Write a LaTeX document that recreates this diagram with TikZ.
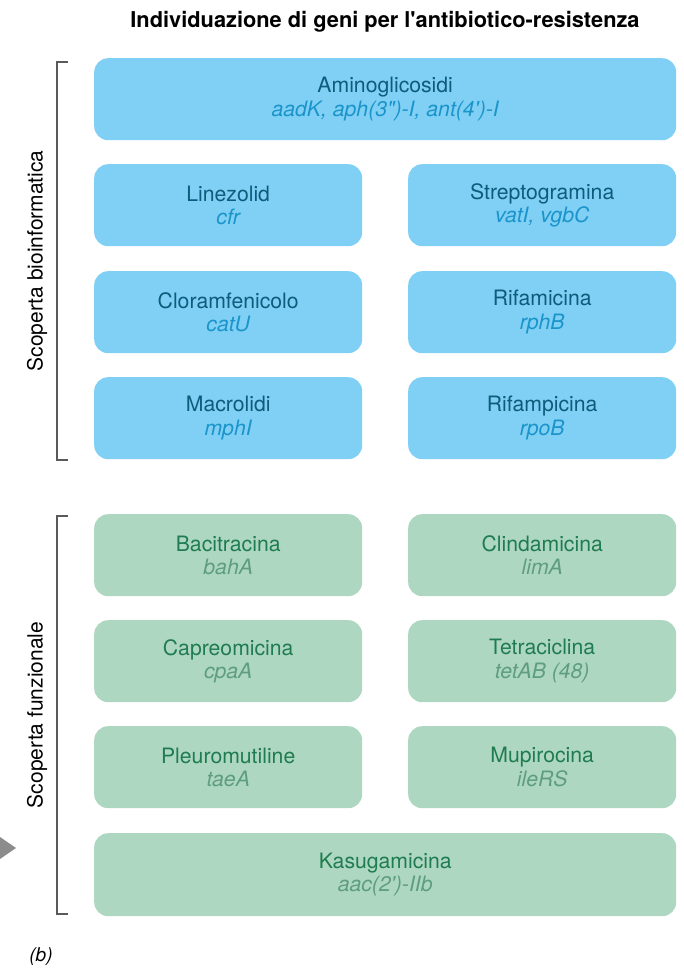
\documentclass[tikz,border=0pt]{standalone}
\usepackage{fontspec}
\newfontfamily\hv{TeX Gyre Heros}
\definecolor{bfill}{HTML}{7FD0F4}
\definecolor{bname}{HTML}{0F5B7C}
\definecolor{bgene}{HTML}{1A94CA}
\definecolor{gfill}{HTML}{AED7C1}
\definecolor{gname}{HTML}{1F7C50}
\definecolor{ggene}{HTML}{5E9D7E}
\definecolor{brk}{HTML}{5A5A5A}
\definecolor{tri}{HTML}{8C8C8C}
\newcommand{\blgene}[1]{\textcolor{bgene}{\itshape #1}}
\newcommand{\grgene}[1]{\textcolor{ggene}{\itshape #1}}
\begin{document}
\begin{tikzpicture}[x=1pt,y=-1pt,
  box/.style={rounded corners=14pt, inner sep=0pt, anchor=north west, align=center,
    font=\hv\fontsize{21.2}{23.5}\selectfont, minimum height=82pt},
  bluebox/.style={box, fill=bfill, text=bname},
  greenbox/.style={box, fill=gfill, text=gname},
  wide/.style={minimum width=582pt},
  half/.style={minimum width=268pt},
  bracketline/.style={draw=brk, line width=1.1pt},
  sidelabel/.style={rotate=90, font=\hv\fontsize{21}{24}\selectfont, text=black}]
\useasboundingbox (0,0) rectangle (683,971);
\node[font=\hv\bfseries\fontsize{21.8}{24}\selectfont] (title) at (385,22) {Individuazione di geni per l'antibiotico-resistenza};
% blue
\node[bluebox, wide] (amino) at (94,58) {Aminoglicosidi\\\blgene{aadK, aph(3")-I, ant(4')-I}};
\node[bluebox, half] (lin) at (94,164) {Linezolid\\\blgene{cfr}};
\node[bluebox, half] (strep) at (408,164) {Streptogramina\\\blgene{vatI, vgbC}};
\node[bluebox, half] (clor) at (94,271) {Cloramfenicolo\\\blgene{catU}};
\node[bluebox, half] (rifa) at (408,271) {Rifamicina\\\blgene{rphB}};
\node[bluebox, half] (macro) at (94,377) {Macrolidi\\\blgene{mphI}};
\node[bluebox, half] (rifp) at (408,377) {Rifampicina\\\blgene{rpoB}};
% green
\node[greenbox, half] (baci) at (94,514) {Bacitracina\\\grgene{bahA}};
\node[greenbox, half] (clin) at (408,514) {Clindamicina\\\grgene{limA}};
\node[greenbox, half] (capr) at (94,620) {Capreomicina\\\grgene{cpaA}};
\node[greenbox, half] (tetr) at (408,620) {Tetraciclina\\\grgene{tetAB (48)}};
\node[greenbox, half] (pleu) at (94,726) {Pleuromutiline\\\grgene{taeA}};
\node[greenbox, half] (mupi) at (408,726) {Mupirocina\\\grgene{ileRS}};
\node[greenbox, wide, minimum height=83pt] (kasu) at (94,833) {Kasugamicina\\\grgene{aac(2')-IIb}};
% brackets
\coordinate (b1t) at (68,62);
\coordinate (b1b) at (68,460);
\coordinate (b2t) at (68,516);
\coordinate (b2b) at (68,914);
\draw[bracketline] (b1t) -- ++(-11,0) |- (b1b);
\draw[bracketline] (b2t) -- ++(-11,0) |- (b2b);
\node[sidelabel] (lab1) at (37,261) {Scoperta bioinformatica};
\node[sidelabel] (lab2) at (37,715) {Scoperta funzionale};
% triangle
\fill[tri] (0,837) -- (16,848) -- (0,859) -- cycle;
\node[font=\hv\itshape\fontsize{19}{22}\selectfont] (b) at (41,957) {(b)};
\end{tikzpicture}
\end{document}
